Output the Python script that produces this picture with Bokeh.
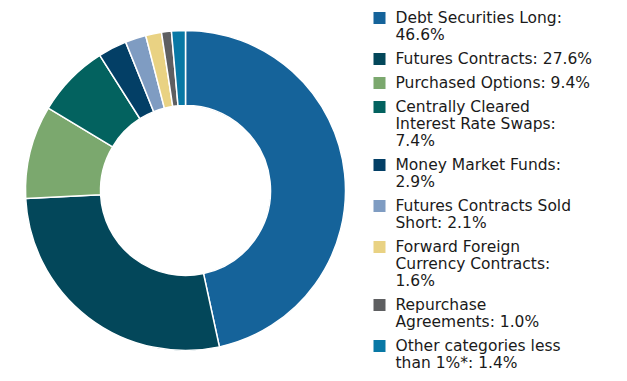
import math
from bokeh.plotting import figure
from bokeh.models import Range1d, ColumnDataSource
from bokeh.core.properties import value
from bokeh.embed import file_html
from bokeh.resources import INLINE

categories = ["Debt Securities Long", "Futures Contracts", "Purchased Options",
              "Centrally Cleared Interest Rate Swaps", "Money Market Funds",
              "Futures Contracts Sold Short", "Forward Foreign Currency Contracts",
              "Repurchase Agreements", "Other categories less than 1%*"]
values = [46.6, 27.6, 9.4, 7.4, 2.9, 2.1, 1.6, 1.0, 1.4]
colors = ["#15639A", "#03475A", "#7BA86E", "#03625F", "#033F66",
          "#7F9CC2", "#E9D283", "#5E5F61", "#0878A5"]
legend_lines = [
    ["Debt Securities Long:", "46.6%"],
    ["Futures Contracts: 27.6%"],
    ["Purchased Options: 9.4%"],
    ["Centrally Cleared", "Interest Rate Swaps:", "7.4%"],
    ["Money Market Funds:", "2.9%"],
    ["Futures Contracts Sold", "Short: 2.1%"],
    ["Forward Foreign", "Currency Contracts:", "1.6%"],
    ["Repurchase", "Agreements: 1.0%"],
    ["Other categories less", "than 1%*: 1.4%"],
]

W, H = 611, 373
p = figure(width=W, height=H, output_backend="svg", toolbar_location=None,
           x_range=Range1d(0, W), y_range=Range1d(0, H), min_border=0)
p.axis.visible = False
p.grid.visible = False
p.outline_line_color = None

def py(y):  # screen pixel y -> data y
    return H - y

# donut
total = sum(values)
starts, ends = [], []
cum = 0.0
for v in values:
    a0 = math.pi / 2 - 2 * math.pi * (cum + v) / total
    a1 = math.pi / 2 - 2 * math.pi * cum / total
    starts.append(a0)
    ends.append(a1)
    cum += v
src = ColumnDataSource(dict(start=starts, end=ends, color=colors, cat=categories, val=values))
cx, cy = 185, py(190)
p.annular_wedge(x=cx, y=cy, inner_radius=85, outer_radius=160,
                start_angle="start", end_angle="end", fill_color="color",
                line_color="white", line_width=1.5, source=src)

# legend
font = value("DejaVu Sans")
line_h = 17
y = 17.5
for lines, col in zip(legend_lines, colors):
    p.rect(x=379, y=py(y), width=12, height=12, fill_color=col, line_color=None)
    for i, t in enumerate(lines):
        p.text(x=395, y=py(y + i * line_h), text=[t], text_font=font,
               text_font_size="15.5px", text_baseline="middle", text_align="left",
               text_color="#1a1a1a")
    y += len(lines) * line_h + 7

open("out.html", "w").write(file_html(p, INLINE))
